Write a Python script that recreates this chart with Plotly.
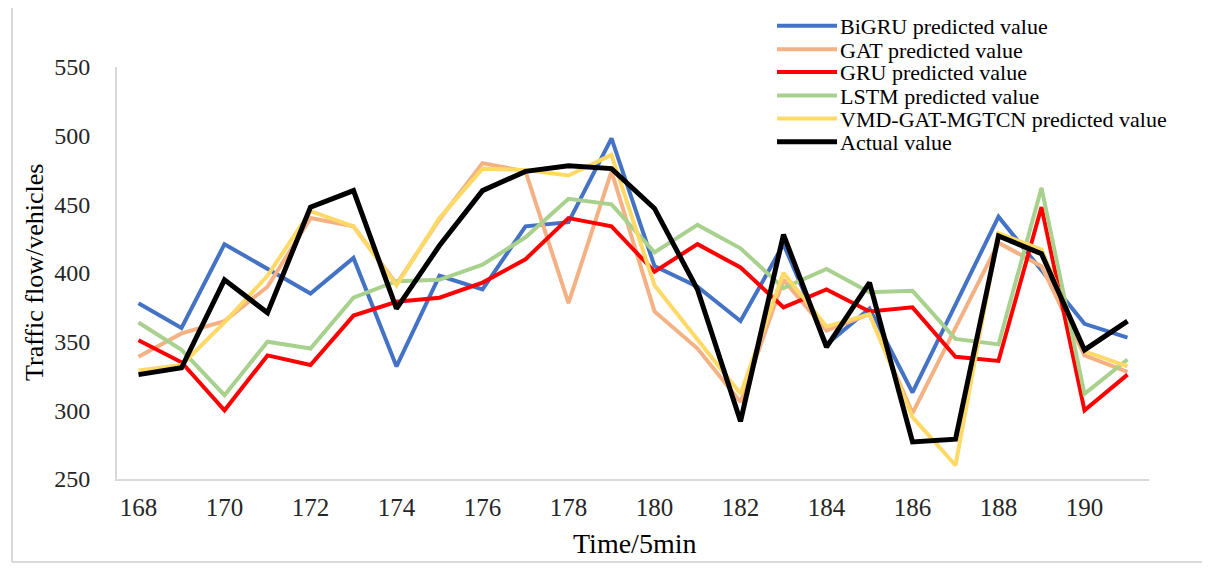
import plotly.graph_objects as go

time = list(range(168, 192))

bigru = [378, 360, 421, 403, 385, 411, 332, 398, 388, 434, 437, 498, 405, 390, 365, 421,
         348, 374, 313, 377, 441, 402, 363, 353]
gat = [339, 356, 365, 390, 440, 434, 392, 439, 480, 474, 378, 474, 372, 345, 306, 395,
       358, 370, 298, 360, 422, 405, 340, 328]
gru = [351, 335, 300, 340, 333, 369, 379, 382, 393, 410, 440, 434, 401, 421, 404, 375,
       388, 372, 375, 339, 336, 448, 300, 326]
lstm = [364, 344, 311, 350, 345, 382, 394, 395, 406, 426, 454, 450, 415, 435, 418, 389,
        403, 386, 387, 352, 348, 462, 312, 337]
vmd = [329, 333, 364, 398, 445, 434, 391, 440, 476, 475, 471, 486, 391, 352, 312, 400,
       361, 370, 295, 260, 429, 417, 343, 332]
actual = [326, 331, 395, 371, 448, 460, 374, 420, 460, 474, 478, 476, 447, 388, 292, 428,
          346, 393, 277, 279, 427, 414, 344, 365]

names = ["BiGRU predicted value", "GAT predicted value", "GRU predicted value",
         "LSTM predicted value", "VMD-GAT-MGTCN predicted value", "Actual value"]
values = [bigru, gat, gru, lstm, vmd, actual]
colors = ["#4472C4", "#F4B183", "#FF0000", "#A9D18E", "#FFD966", "#000000"]
widths = [4, 4, 4, 4, 4, 5]

font_family = "Liberation Serif"
W, H = 1210, 572
OFF = 8  # page body margin
L, T = 117 - OFF, 67 - OFF
pw, ph = 1032, 412
R, B = W - L - pw, H - T - ph


def px_x(sx):
    return (sx - OFF - L) / pw


def px_y(sy):
    return (H - B - (sy - OFF)) / ph


fig = go.Figure()
for name, vals, color, w in zip(names, values, colors, widths):
    fig.add_trace(go.Scatter(x=time, y=vals, mode="lines", name=name,
                             line=dict(color=color, width=w)))

# legend drawn as sample lines + text (to match the tight spacing of the original)
legend_y = [25.7, 49.3, 71.9, 95.5, 118.5, 141.7]
shapes = []
annotations = []
for name, color, w, ly in zip(names, colors, widths, legend_y):
    shapes.append(dict(type="line", xref="paper", yref="paper",
                       x0=px_x(777), x1=px_x(837), y0=px_y(ly), y1=px_y(ly),
                       line=dict(color=color, width=w)))
    annotations.append(dict(text=name, xref="paper", yref="paper",
                            x=px_x(838), y=px_y(ly + 1), xanchor="left", yanchor="middle",
                            showarrow=False,
                            font=dict(size=22, family=font_family, color="#000000")))

annotations += [
    dict(text="Traffic flow/vehicles", xref="paper", yref="paper",
         x=px_x(34), y=px_y(273), textangle=-90, showarrow=False,
         xanchor="center", yanchor="middle",
         font=dict(size=26, family=font_family, color="#000000")),
    dict(text="Time/5min", xref="paper", yref="paper",
         x=px_x(634), y=px_y(543), showarrow=False,
         xanchor="center", yanchor="middle",
         font=dict(size=28, family=font_family, color="#000000")),
]

# outer light-gray frame (left, right, bottom)
for x0, x1, y0, y1 in [(12, 12, OFF, 562), (1203, 1203, OFF, 562), (12, 1203, 562, 562)]:
    shapes.append(dict(type="line", xref="paper", yref="paper",
                       x0=px_x(x0), x1=px_x(x1), y0=px_y(y0), y1=px_y(y1),
                       line=dict(color="#D9D9D9", width=2), layer="below"))

fig.update_layout(
    width=W, height=H,
    margin=dict(l=L, r=R, t=T, b=B),
    paper_bgcolor="white", plot_bgcolor="white",
    font=dict(family=font_family, color="#262626"),
    showlegend=False,
    xaxis=dict(range=[167.5, 191.5], tickvals=list(range(168, 191, 2)),
               showgrid=False, zeroline=False, showline=True, linecolor="#D9D9D9",
               linewidth=2, ticks="", ticklabelstandoff=5,
               tickfont=dict(size=25, family=font_family, color="#262626")),
    yaxis=dict(range=[250, 550], tickvals=list(range(250, 551, 50)),
               showgrid=False, zeroline=False, showline=True, linecolor="#D9D9D9",
               linewidth=2, ticks="", ticklabelstandoff=20,
               tickfont=dict(size=24, family=font_family, color="#262626")),
    annotations=annotations,
    shapes=shapes,
)

fig.write_html("out.html")
